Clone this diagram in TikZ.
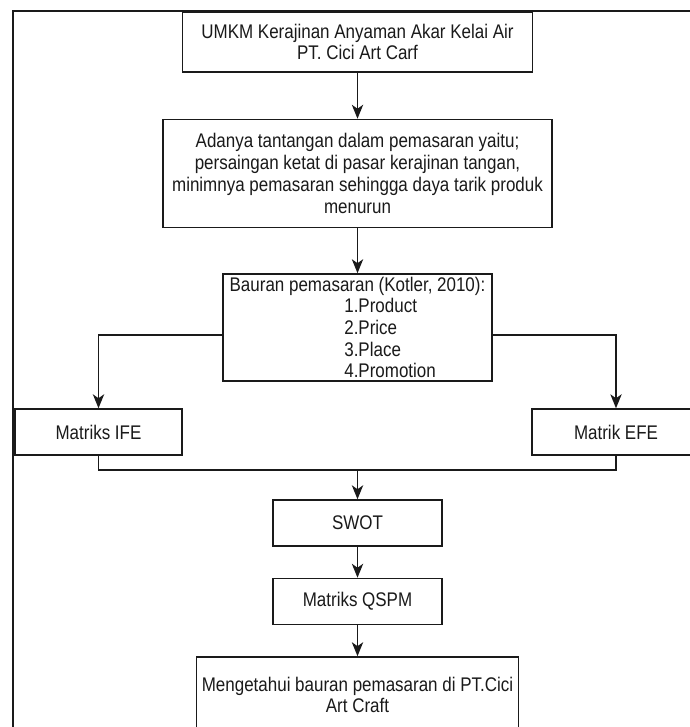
\documentclass[tikz,border=0pt]{standalone}
\usepackage{fontspec}
\setmainfont{Liberation Sans}[FakeStretch=0.86]
\usepackage{xcolor}
\definecolor{ink}{HTML}{1A1A1A}
\usepackage{tikz}
\usetikzlibrary{arrows.meta,positioning}
\tikzset{
  >=Stealth,
  font=\fontsize{14.8pt}{16.3pt}\selectfont,
  box/.style={draw=ink,line width=1.1pt,fill=white,align=center,inner sep=2pt,text=ink},
  flow/.style={-{Stealth[length=10.5pt,width=8.5pt,inset=3pt]},line width=1.1pt,draw=ink},
  link/.style={line width=1.1pt,draw=ink},
  frame/.style={draw=ink,line width=1.6pt},
}
\newcommand{\itm}{\hspace*{86pt}}

\begin{document}
\begin{tikzpicture}[x=0.75pt,y=-0.75pt]
  \useasboundingbox (0,0) rectangle (689,727);
  \draw[frame] (13,11) rectangle (702,740);

  \node[box,minimum width=262.5pt,minimum height=45pt] (umkm) at (357.5,42)
    {UMKM Kerajinan Anyaman Akar Kelai Air\\PT. Cici Art Carf};
  \node[box,minimum width=291.75pt,minimum height=81pt,below=34.5pt of umkm] (tantangan)
    {Adanya tantangan dalam pemasaran yaitu;\\persaingan ketat di pasar kerajinan tangan,\\
     minimnya pemasaran sehingga daya tarik produk\\menurun};
  \node[box,align=left,inner ysep=0pt,minimum width=201.75pt,minimum height=80.25pt,
        below=33.75pt of tantangan] (bauran)
    {Bauran pemasaran (Kotler, 2010):\\\itm 1.Product\\\itm 2.Price\\\itm 3.Place\\\itm 4.Promotion};

  \node[box,minimum width=125.25pt,minimum height=34.5pt] (ife) at (98.5,432) {Matriks IFE};
  \node[box,minimum width=126pt,minimum height=34.5pt] (efe) at (616,432) {Matrik EFE};

  \node[box,minimum width=126.75pt,minimum height=34.5pt] (swot) at (357.5,523) {SWOT};
  \node[box,minimum width=126.75pt,minimum height=34.5pt,below=23.25pt of swot] (qspm) {Matriks QSPM};
  \node[box,minimum width=241.5pt,minimum height=57pt,below=23.25pt of qspm] (hasil)
    {Mengetahui bauran pemasaran di PT.Cici\\Art Craft};

  \coordinate (gabung) at (357.5,470);

  \draw[flow] (umkm) -- (tantangan);
  \draw[flow] (tantangan) -- (bauran);
  \draw[flow] ([yshift=-5.6pt]bauran.west) -| (ife.north);
  \draw[flow] ([yshift=-5.6pt]bauran.east) -| (efe.north);
  \draw[link] (ife.south) |- (gabung) -| (efe.south);
  \draw[flow] (gabung) -- (swot);
  \draw[flow] (swot) -- (qspm);
  \draw[flow] (qspm) -- (hasil);
\end{tikzpicture}
\end{document}
